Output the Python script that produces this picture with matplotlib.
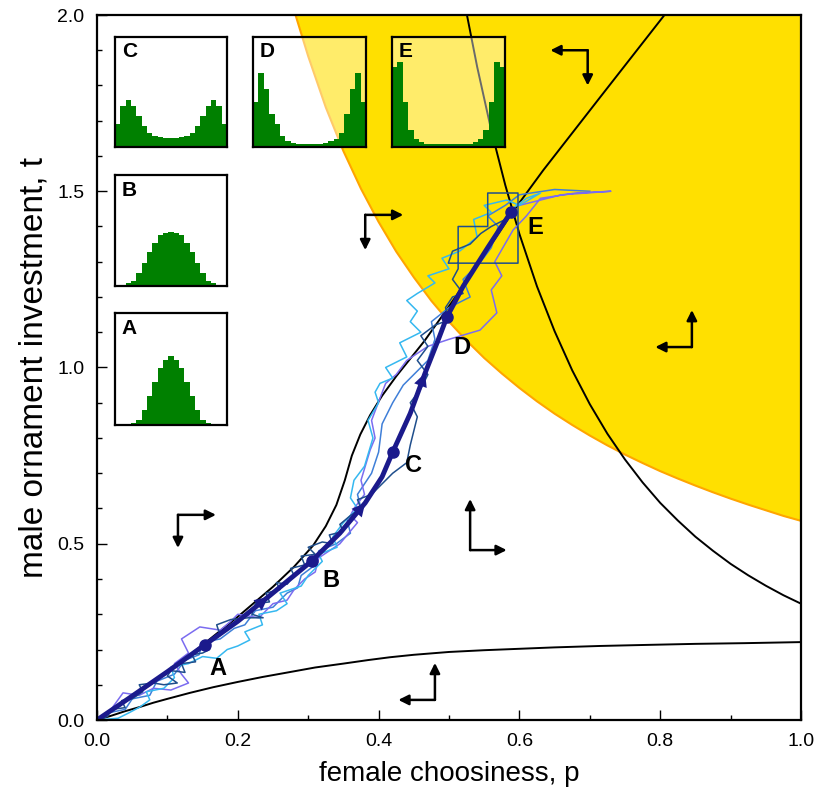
import numpy as np
import matplotlib.pyplot as plt

plt.rcParams['font.family'] = ['Liberation Sans', 'DejaVu Sans']

# yellow region boundary (lower-left edge)
yel_p = [0.282, 0.30, 0.325, 0.35, 0.375, 0.40, 0.425, 0.45, 0.475, 0.50, 0.525, 0.55, 0.575, 0.60,
         0.625, 0.65, 0.675, 0.70, 0.725, 0.75, 0.775, 0.80, 0.825, 0.85, 0.875, 0.90, 0.925,
         0.95, 0.975, 1.0]
yel_t = [2.0, 1.883, 1.738, 1.614, 1.507, 1.413, 1.329, 1.256, 1.189, 1.13, 1.076, 1.027, 0.983,
         0.942, 0.904, 0.869, 0.837, 0.807, 0.779, 0.753, 0.729, 0.706, 0.685, 0.665, 0.646,
         0.628, 0.611, 0.595, 0.579, 0.565]

# steep black curve (upper right)
steep_p = [0.525, 0.54, 0.56, 0.58, 0.60, 0.625, 0.65, 0.675, 0.70, 0.725, 0.75, 0.775, 0.80,
           0.825, 0.85, 0.875, 0.90, 0.925, 0.95, 0.975, 1.0]
steep_t = [2.005, 1.853, 1.673, 1.517, 1.379, 1.23, 1.103, 0.992, 0.896, 0.812, 0.739, 0.674,
           0.616, 0.566, 0.520, 0.480, 0.443, 0.4105, 0.381, 0.354, 0.33]

# black curve along the trajectory
line_p = [0.0, 0.05, 0.10, 0.15, 0.20, 0.25, 0.28, 0.307, 0.325, 0.34, 0.352, 0.362, 0.374, 0.388,
          0.405, 0.425, 0.445, 0.465, 0.497, 0.53, 0.56, 0.59, 0.634, 0.714, 0.81]
line_t = [0.0, 0.065, 0.135, 0.213, 0.293, 0.378, 0.435, 0.495, 0.55, 0.61, 0.68, 0.75, 0.81, 0.865,
          0.92, 0.975, 1.025, 1.075, 1.165, 1.26, 1.35, 1.44, 1.56, 1.765, 2.01]

# lower black curve
low_p = [0.0, 0.02, 0.04, 0.061, 0.08, 0.10, 0.132, 0.165, 0.20, 0.235, 0.274, 0.31, 0.35, 0.385,
         0.416, 0.45, 0.50, 0.55, 0.60, 0.65, 0.714, 0.78, 0.85, 0.92, 1.0]
low_t = [0.0, 0.012, 0.025, 0.037, 0.049, 0.06, 0.077, 0.093, 0.108, 0.122, 0.136, 0.149, 0.16,
         0.17, 0.178, 0.185, 0.193, 0.198, 0.202, 0.206, 0.21, 0.213, 0.216, 0.218, 0.221]

# mean trajectory
traj_p = [0.0, 0.05, 0.10, 0.153, 0.20, 0.243, 0.305, 0.345, 0.381, 0.405, 0.42, 0.445, 0.466,
          0.485, 0.497, 0.52, 0.555, 0.588]
traj_t = [0.0, 0.068, 0.137, 0.213, 0.28, 0.349, 0.451, 0.53, 0.616, 0.69, 0.76, 0.87, 0.984,
          1.08, 1.143, 1.23, 1.34, 1.441]
dot_idx = [3, 6, 10, 14, 17]
arrow_idx = [5, 8, 12]
dot_labels = ['A', 'B', 'C', 'D', 'E']
lab_p = [0.172, 0.332, 0.45, 0.518, 0.622]
lab_t = [0.145, 0.397, 0.723, 1.058, 1.396]

# individual simulation runs
run_dark_p = [0, 0.015, 0.02, 0.04, 0.035, 0.05, 0.065, 0.06, 0.08, 0.095, 0.114, 0.10, 0.105,
              0.125, 0.12, 0.14, 0.135, 0.15, 0.16, 0.155, 0.175, 0.17, 0.19, 0.215, 0.236, 0.22,
              0.225, 0.245, 0.24, 0.26, 0.255, 0.27, 0.28, 0.275, 0.295, 0.29, 0.31, 0.30, 0.32,
              0.335, 0.33, 0.35, 0.345, 0.36, 0.375, 0.37, 0.39, 0.405, 0.42, 0.44, 0.445, 0.45,
              0.455, 0.445, 0.46, 0.47, 0.455, 0.47, 0.46, 0.48, 0.50, 0.495, 0.505, 0.52, 0.505,
              0.513, 0.513, 0.555, 0.555, 0.598, 0.598, 0.499, 0.505, 0.53, 0.545, 0.56, 0.58,
              0.59]
run_dark_t = [0, 0.01, 0.03, 0.035, 0.055, 0.06, 0.08, 0.10, 0.105, 0.10, 0.105, 0.125, 0.14,
              0.135, 0.16, 0.165, 0.185, 0.19, 0.2, 0.22, 0.24, 0.27, 0.285, 0.29, 0.29, 0.30,
              0.33, 0.335, 0.36, 0.37, 0.39, 0.385, 0.41, 0.43, 0.44, 0.465, 0.47, 0.49, 0.505,
              0.50, 0.525, 0.535, 0.555, 0.58, 0.60, 0.625, 0.64, 0.67, 0.70, 0.73, 0.78, 0.82,
              0.86, 0.9, 0.94, 0.98, 1.02, 1.06, 1.09, 1.12, 1.135, 1.17, 1.2, 1.21, 1.25,
              1.28, 1.40, 1.40, 1.495, 1.495, 1.296, 1.296, 1.33, 1.35, 1.38, 1.40, 1.42,
              1.445]
run_light_p = [0, 0.03, 0.045, 0.061, 0.075, 0.07, 0.095, 0.11, 0.105, 0.13, 0.15, 0.17, 0.185,
               0.2, 0.217, 0.21, 0.235, 0.23, 0.255, 0.27, 0.26, 0.29, 0.30, 0.32, 0.315, 0.341,
               0.335, 0.35, 0.37, 0.36, 0.365, 0.38, 0.392, 0.385, 0.40, 0.395, 0.402, 0.42, 0.41,
               0.44, 0.43, 0.46, 0.445, 0.455, 0.44, 0.455, 0.48, 0.47, 0.50, 0.49, 0.515, 0.54,
               0.535, 0.56, 0.55, 0.582, 0.60, 0.63, 0.61, 0.59]
run_light_t = [0, 0.005, 0.02, 0.037, 0.057, 0.08, 0.09, 0.12, 0.15, 0.16, 0.18, 0.175, 0.20,
               0.21, 0.227, 0.25, 0.27, 0.30, 0.31, 0.33, 0.36, 0.38, 0.41, 0.45, 0.47, 0.49,
               0.52, 0.56, 0.60, 0.63, 0.68, 0.72, 0.80, 0.85, 0.90, 0.93, 0.955, 0.97, 1.0,
               1.03, 1.07, 1.10, 1.13, 1.16, 1.19, 1.21, 1.24, 1.26, 1.28, 1.31, 1.33, 1.37,
               1.42, 1.44, 1.46, 1.475, 1.46, 1.495, 1.48, 1.45]
run_purple_p = [0, 0.02, 0.037, 0.06, 0.08, 0.105, 0.13, 0.12, 0.11, 0.13, 0.12, 0.146, 0.175,
                0.19, 0.20, 0.23, 0.25, 0.27, 0.28, 0.295, 0.31, 0.315, 0.33, 0.345, 0.37, 0.36,
                0.365, 0.38, 0.375, 0.388, 0.395, 0.39, 0.41, 0.425, 0.44, 0.47, 0.50, 0.544,
                0.568, 0.56, 0.575, 0.565, 0.591, 0.61, 0.63, 0.68, 0.73, 0.66, 0.60]
run_purple_t = [0, 0.03, 0.077, 0.07, 0.09, 0.085, 0.105, 0.13, 0.16, 0.19, 0.23, 0.264, 0.255,
                0.28, 0.30, 0.29, 0.33, 0.34, 0.37, 0.40, 0.42, 0.46, 0.48, 0.50, 0.56, 0.58,
                0.60, 0.64, 0.68, 0.766, 0.80, 0.85, 0.955, 0.98, 1.02, 1.06, 1.08, 1.106,
                1.155, 1.22, 1.26, 1.30, 1.39, 1.43, 1.48, 1.495, 1.50, 1.49, 1.46]
run_mid_p = [0, 0.015, 0.04, 0.05, 0.075, 0.085, 0.11, 0.125, 0.145, 0.15, 0.175, 0.195, 0.21,
             0.225, 0.25, 0.27, 0.285, 0.29, 0.31, 0.315, 0.34, 0.36, 0.355, 0.375, 0.37, 0.39,
             0.40, 0.405, 0.42, 0.435, 0.45, 0.47, 0.48, 0.475, 0.50, 0.53, 0.52, 0.545, 0.56,
             0.57, 0.555, 0.58, 0.60, 0.65, 0.70]
run_mid_t = [0, 0.02, 0.03, 0.06, 0.07, 0.11, 0.13, 0.17, 0.185, 0.22, 0.23, 0.26, 0.27, 0.31,
             0.32, 0.36, 0.375, 0.41, 0.44, 0.48, 0.50, 0.53, 0.57, 0.60, 0.64, 0.70, 0.76,
             0.84, 0.90, 0.95, 0.98, 1.02, 1.08, 1.13, 1.17, 1.20, 1.25, 1.30, 1.34, 1.40,
             1.43, 1.46, 1.49, 1.505, 1.50]

# direction indicators: corner, horizontal tip, vertical tip
dir_corner_p = [0.115, 0.530, 0.381, 0.697, 0.845, 0.480]
dir_corner_t = [0.582, 0.482, 1.433, 1.900, 1.058, 0.057]
dir_h_p = [0.169, 0.582, 0.435, 0.644, 0.793, 0.428]
dir_v_t = [0.488, 0.627, 1.333, 1.800, 1.163, 0.162]

# inset histograms (21 bins, fraction of panel height)
hist_A = [0, 0, 0.005, 0.015, 0.046, 0.13, 0.26, 0.38, 0.51, 0.58, 0.62, 0.58, 0.51, 0.38, 0.26,
          0.13, 0.046, 0.015, 0.005, 0, 0]
hist_B = [0, 0.005, 0.025, 0.046, 0.12, 0.21, 0.31, 0.39, 0.46, 0.48, 0.49, 0.48, 0.46, 0.39, 0.31,
          0.21, 0.12, 0.046, 0.025, 0.005, 0]
hist_C = [0.21, 0.37, 0.43, 0.37, 0.28, 0.19, 0.13, 0.10, 0.09, 0.085, 0.085, 0.085, 0.09, 0.10,
          0.13, 0.19, 0.28, 0.37, 0.43, 0.37, 0.21]
hist_D = [0.41, 0.67, 0.53, 0.30, 0.21, 0.10, 0.05, 0.035, 0.03, 0.03, 0.03, 0.03, 0.03, 0.035,
          0.05, 0.07, 0.13, 0.30, 0.53, 0.67, 0.41]
hist_E = [0.73, 0.77, 0.41, 0.15, 0.07, 0.045, 0.03, 0.025, 0.025, 0.025, 0.025, 0.025, 0.025,
          0.025, 0.03, 0.045, 0.07, 0.15, 0.41, 0.77, 0.73]

navy = '#1b1a8c'
W, H = 822, 805

fig = plt.figure(figsize=(W / 100, H / 100), dpi=100)
ax = fig.add_axes([97 / W, 85 / H, 704 / W, 705 / H])

ax.fill_between(yel_p, yel_t, 2.0, color='#ffe000', lw=0, zorder=1)
ax.plot(yel_p, yel_t, color='#ffa500', lw=1.5, zorder=2)

ax.plot(steep_p, steep_t, color='black', lw=1.4, zorder=3)
ax.plot(line_p, line_t, color='black', lw=1.4, zorder=3)
ax.plot(low_p, low_t, color='black', lw=1.4, zorder=3)

runs = [(run_mid_p, run_mid_t, '#3f7fd8'),
        (run_purple_p, run_purple_t, '#7b6cf0'),
        (run_light_p, run_light_t, '#35b8f0'),
        (run_dark_p, run_dark_t, '#1f4e8c')]
for rp, rt, col in runs:
    ax.plot(rp, rt, color=col, lw=1.1, zorder=4)

ax.plot(traj_p, traj_t, color=navy, lw=3.5, zorder=5, solid_capstyle='round')
ax.plot([traj_p[i] for i in dot_idx], [traj_t[i] for i in dot_idx], 'o', color=navy,
        ms=8, zorder=6)
for i in arrow_idx:
    ax.annotate('', xy=(traj_p[i], traj_t[i]), xytext=(traj_p[i - 1], traj_t[i - 1]),
                arrowprops=dict(arrowstyle='-|>', mutation_scale=24, lw=0, color=navy,
                                shrinkA=0, shrinkB=0), zorder=6)
for s, lp, lt in zip(dot_labels, lab_p, lab_t):
    ax.text(lp, lt, s, fontsize=17, fontweight='bold', ha='center', va='center', zorder=7)

for cp, ct, hp, vt in zip(dir_corner_p, dir_corner_t, dir_h_p, dir_v_t):
    for tip in [(hp, ct), (cp, vt)]:
        ax.annotate('', xy=tip, xytext=(cp, ct),
                    arrowprops=dict(arrowstyle='-|>', mutation_scale=15, lw=1.8, color='black',
                                    shrinkA=0, shrinkB=0), zorder=7)

ax.set_xlim(0, 1)
ax.set_ylim(0, 2)
ax.set_xticks(np.arange(0, 1.01, 0.2))
ax.set_xticks(np.arange(0, 1.01, 0.1), minor=True)
ax.set_yticks(np.arange(0, 2.01, 0.5))
ax.set_yticks(np.arange(0, 2.01, 0.1), minor=True)
ax.tick_params(which='both', direction='in', top=False, right=False, labelsize=14, width=1.0)
ax.tick_params(which='major', length=7, pad=9)
ax.tick_params(which='minor', length=3.5)
for sp in ax.spines.values():
    sp.set_linewidth(1.6)
    sp.set_zorder(10)
ax.set_xlabel('female choosiness, p', fontsize=20, labelpad=8)
ax.set_ylabel('male ornament investment, t', fontsize=24, labelpad=6)

# inset panels: (label, bins, x0, y0, x1, y1 in pixels, face alpha)
insets = [('A', hist_A, 115, 313, 227, 425, 1.0),
          ('B', hist_B, 115, 175, 227, 286, 1.0),
          ('C', hist_C, 115, 37, 227, 147, 1.0),
          ('D', hist_D, 253, 37, 366, 147, 0.42),
          ('E', hist_E, 392, 37, 505, 147, 0.42)]
for lab, h, x0, y0, x1, y1, al in insets:
    iax = fig.add_axes([x0 / W, (H - y1) / H, (x1 - x0) / W, (y1 - y0) / H])
    iax.set_facecolor((1, 1, 1, al))
    iax.bar(np.arange(len(h)), h, width=1.0, color='#008000', edgecolor='none')
    iax.set_xlim(-0.5, len(h) - 0.5)
    iax.set_ylim(0, 1)
    iax.set_xticks([])
    iax.set_yticks([])
    for sp in iax.spines.values():
        sp.set_linewidth(1.6)
    iax.text(0.06, 0.95, lab, transform=iax.transAxes, fontsize=15, fontweight='bold',
             ha='left', va='top')

fig.savefig('out.png', dpi=100)
